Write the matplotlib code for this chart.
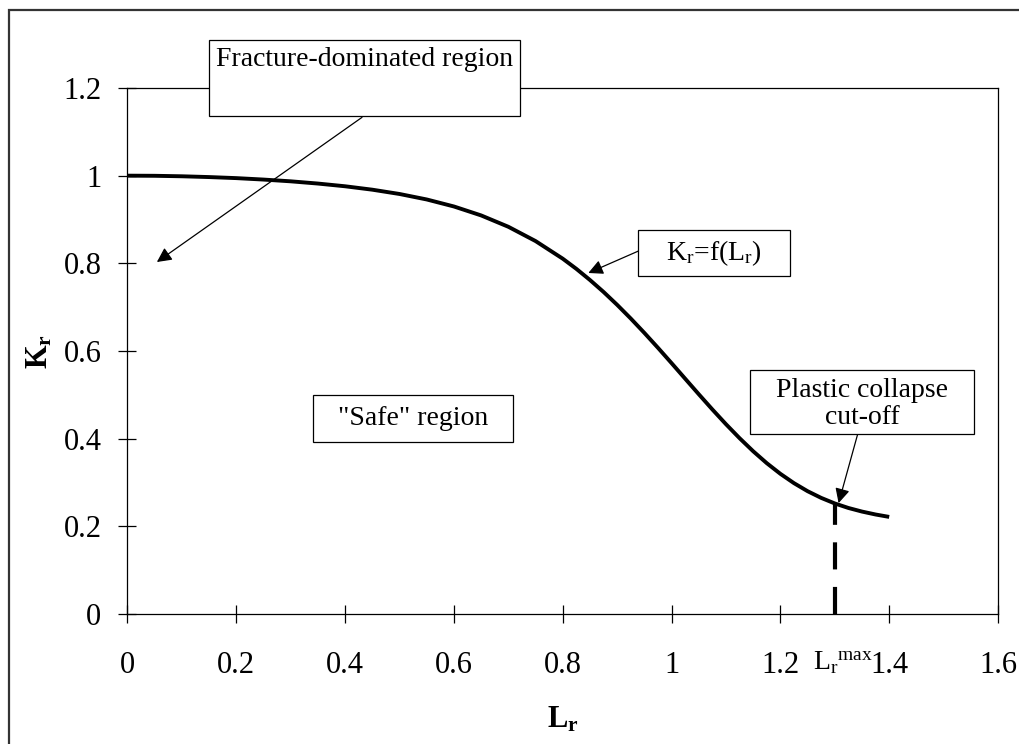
import matplotlib
matplotlib.use("Agg")
import matplotlib.pyplot as plt
from matplotlib.patches import Rectangle

plt.rcParams['font.family'] = ['Liberation Serif', 'DejaVu Serif']
plt.rcParams['mathtext.fontset'] = 'custom'
plt.rcParams['mathtext.rm'] = 'Liberation Serif'
plt.rcParams['mathtext.it'] = 'Liberation Serif:italic'
plt.rcParams['mathtext.bf'] = 'Liberation Serif:bold'

# Data
Lr = [0.0, 0.05, 0.1, 0.15, 0.2, 0.25, 0.3, 0.35, 0.4, 0.45, 0.5, 0.55, 0.6, 0.65,
      0.7, 0.75, 0.8, 0.825, 0.85, 0.875, 0.9, 0.925, 0.95, 0.975,
      1.0, 1.025, 1.05, 1.075, 1.1, 1.125, 1.15, 1.175, 1.2, 1.225, 1.25, 1.275,
      1.3, 1.325, 1.35, 1.375, 1.4]
Kr = [1.0, 0.9997, 0.9986, 0.9968, 0.9944, 0.9911, 0.9871, 0.9820, 0.9758, 0.9680,
      0.9582, 0.9457, 0.9297, 0.9093, 0.8834, 0.8508, 0.8106, 0.7874, 0.7620, 0.7347,
      0.7053, 0.6741, 0.6413, 0.6073, 0.5723, 0.5368, 0.5014, 0.4666, 0.4330, 0.4011,
      0.3713, 0.3441, 0.3198, 0.2985, 0.2802, 0.2649, 0.2522, 0.2419, 0.2337, 0.2270,
      0.2215]
Lr_max = 1.3
Kr_at_max = 0.2522
x_ticks = [0, 0.2, 0.4, 0.6, 0.8, 1.0, 1.2, 1.4, 1.6]
x_tick_labels = ['0', '0.2', '0.4', '0.6', '0.8', '1', '1.2', '1.4', '1.6']
y_ticks = [0, 0.2, 0.4, 0.6, 0.8, 1.0, 1.2]
y_tick_labels = ['0', '0.2', '0.4', '0.6', '0.8', '1', '1.2']

W, H = 1020, 744
fig = plt.figure(figsize=(W / 100, H / 100), dpi=100)
fig.patch.set_facecolor('white')

# outer frame
fig.add_artist(Rectangle((9 / W, -0.1), 1.2, (H - 10) / H + 0.1, transform=fig.transFigure,
                         fill=False, edgecolor='#333333', linewidth=1.6))

L, R, T, B = 127.5, 998, 88, 614
ax = fig.add_axes([L / W, (H - B) / H, (R - L) / W, (B - T) / H])
ax.set_xlim(0, 1.6)
ax.set_ylim(0, 1.2)
for s in ax.spines.values():
    s.set_linewidth(0.9)
    s.set_color('black')
ax.set_xticks(x_ticks)
ax.set_xticklabels(x_tick_labels)
ax.set_yticks(y_ticks)
ax.set_yticklabels(y_tick_labels)
ax.tick_params(axis='x', direction='inout', length=13.5, width=0.9, labelsize=22, pad=20)
ax.tick_params(axis='y', direction='inout', length=13.5, width=0.9, labelsize=22, pad=12)

ax.plot(Lr, Kr, color='black', linewidth=2.8, solid_capstyle='butt', solid_joinstyle='round', zorder=3)
ax.plot([Lr_max, Lr_max], [0, Kr_at_max], color='black', linewidth=3.0,
        dashes=(6.5, 4.2), solid_capstyle='butt', zorder=3)

ax.set_xlabel(r'$\mathbf{L_r}$', fontsize=22)
ax.set_ylabel(r'$\mathbf{K_r}$', fontsize=22)
ax.xaxis.set_label_coords(0.5, -0.2015)
ax.xaxis.label.set_va('center')
ax.yaxis.set_label_coords(-0.1005, 0.5)
ax.yaxis.label.set_va('center')

def box(x0, y0, x1, y1):
    ax.add_patch(Rectangle((x0, y0), x1 - x0, y1 - y0, facecolor='white', edgecolor='black',
                           linewidth=0.9, clip_on=False, zorder=5))

arrow = dict(arrowstyle='-|>,head_length=0.4,head_width=0.2', color='black', lw=0.9,
             shrinkA=0, shrinkB=0, mutation_scale=22)

# Fracture-dominated region
box(0.150, 1.136, 0.722, 1.309)
ax.text(0.435, 1.266, 'Fracture-dominated region', fontsize=20, ha='center', va='center', zorder=6)
ax.annotate('', xy=(0.054, 0.803), xytext=(0.431, 1.133), arrowprops=arrow, annotation_clip=False, zorder=4)

# Kr = f(Lr)
box(0.939, 0.771, 1.217, 0.876)
ax.text(1.077, 0.823, r'K$_\mathrm{r}$=f(L$_\mathrm{r}$)', fontsize=20, ha='center', va='center', zorder=6)
ax.annotate('', xy=(0.847, 0.778), xytext=(0.939, 0.828), arrowprops=arrow, zorder=4)

# Safe region
box(0.341, 0.392, 0.709, 0.499)
ax.text(0.525, 0.447, '"Safe" region', fontsize=20, ha='center', va='center', zorder=6)

# Plastic collapse cut-off
box(1.1435, 0.410, 1.556, 0.556)
ax.text(1.350, 0.479, 'Plastic collapse\ncut-off', fontsize=20, ha='center', va='center',
        linespacing=1.15, zorder=6)
ax.annotate('', xy=(1.307, 0.253), xytext=(1.342, 0.410), arrowprops=arrow, zorder=4)

# Lr max label
ax.text(1.315, -0.112, r'L$_\mathrm{r}{}^\mathrm{max}$', fontsize=20, ha='center', va='center',
        clip_on=False)

fig.savefig('out.png', dpi=100, facecolor='white')
